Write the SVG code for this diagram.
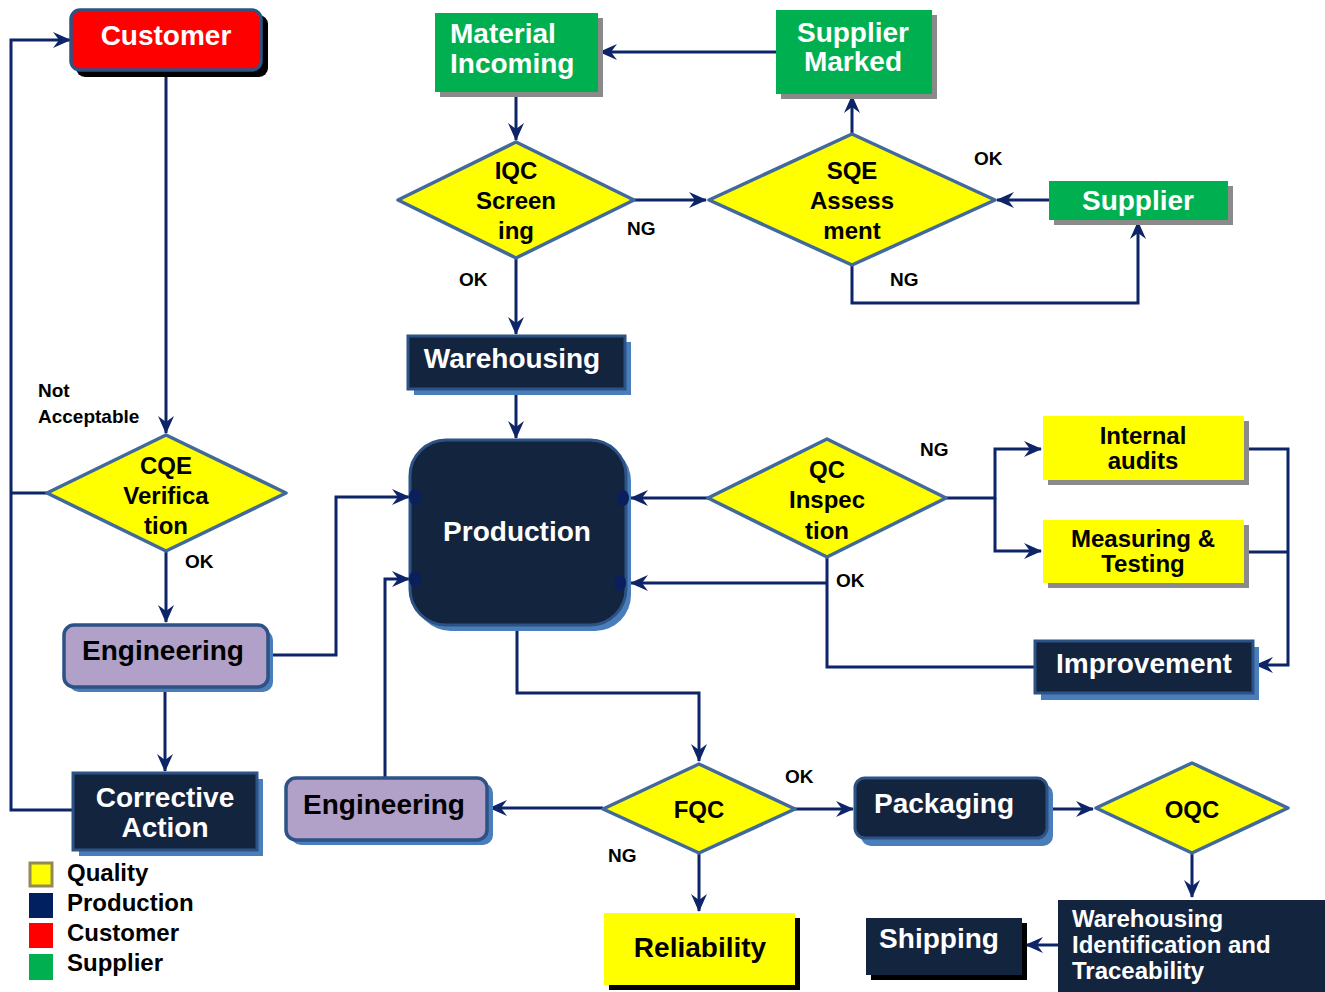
<svg xmlns="http://www.w3.org/2000/svg" width="1325" height="992" viewBox="0 0 1325 992">
<defs>
<marker id="arr" markerUnits="userSpaceOnUse" markerWidth="18" markerHeight="18" viewBox="0 0 18 18" refX="17" refY="9" orient="auto">
<path d="M0,1 L18,9 L0,17 L6,9 z" fill="#0d2568"/>
</marker>
<style>
text{font-family:"Liberation Sans",Arial,sans-serif;font-weight:bold}
.w{fill:#fff}
.k{fill:#000}
.c{text-anchor:middle}
.f28{font-size:28px}
.f24{font-size:24px}
.f19{font-size:19px}
.con{fill:none;stroke:#0d2568;stroke-width:3}
.dia{fill:#ffff00;stroke:#41699c;stroke-width:3.5;stroke-linejoin:round}
.dark{fill:#13243f;stroke:#2c5286;stroke-width:3}
.lbshadow{fill:#4a7ebb}
.green{fill:#00b050}
.gshadow{fill:#8a8a8a}
.yel{fill:#ffff00}
.purple{fill:#b1a0c7;stroke:#2c5286;stroke-width:3.5}
</style>
</defs>
<rect width="1325" height="992" fill="#fff"/>

<g id="connectors">
<path class="con" d="M166,72 V433" marker-end="url(#arr)"/>
<path class="con" d="M73,810 H11 V40 H70" marker-end="url(#arr)" stroke-width="4"/>
<path class="con" d="M47,493 H11"/>
<path class="con" d="M166,551 V622" marker-end="url(#arr)"/>
<path class="con" d="M268,655 H336 V497 H409" marker-end="url(#arr)"/>
<path class="con" d="M165,687 V771" marker-end="url(#arr)"/>
<path class="con" d="M385,778 V579 H409" marker-end="url(#arr)"/>
<path class="con" d="M603,808 H490" marker-end="url(#arr)"/>
<path class="con" d="M516,390 V438" marker-end="url(#arr)"/>
<path class="con" d="M516,93 V140" marker-end="url(#arr)"/>
<path class="con" d="M776,52 H600" marker-end="url(#arr)"/>
<path class="con" d="M634,200 H706" marker-end="url(#arr)"/>
<path class="con" d="M516,258 V334" marker-end="url(#arr)"/>
<path class="con" d="M852,133 V96" marker-end="url(#arr)"/>
<path class="con" d="M1049,200 H997" marker-end="url(#arr)"/>
<path class="con" d="M852,265 V303 H1138 V222" marker-end="url(#arr)"/>
<path class="con" d="M708,498 H631" marker-end="url(#arr)"/>
<path class="con" d="M946,498 H995 V449 H1041" marker-end="url(#arr)"/>
<path class="con" d="M995,498 V551 H1041" marker-end="url(#arr)"/>
<path class="con" d="M1035,667 H827 V557"/>
<path class="con" d="M827,583 H631" marker-end="url(#arr)"/>
<path class="con" d="M1244,449 H1288 V665 H1256" marker-end="url(#arr)"/>
<path class="con" d="M1244,552 H1288"/>
<path class="con" d="M517,625 V693 H699 V761" marker-end="url(#arr)"/>
<path class="con" d="M795,809 H853" marker-end="url(#arr)"/>
<path class="con" d="M699,853 V911" marker-end="url(#arr)"/>
<path class="con" d="M1047,809 H1093" marker-end="url(#arr)"/>
<path class="con" d="M1192,853 V897" marker-end="url(#arr)"/>
<path class="con" d="M1058,945 H1026" marker-end="url(#arr)"/>
</g>

<g id="labels">
<text class="k f19" x="38" y="397">Not</text>
<text class="k f19" x="38" y="423">Acceptable</text>
<text class="k f19" x="185" y="568">OK</text>
<text class="k f19" x="627" y="235">NG</text>
<text class="k f19" x="459" y="286">OK</text>
<text class="k f19" x="974" y="165">OK</text>
<text class="k f19" x="890" y="286">NG</text>
<text class="k f19" x="920" y="456">NG</text>
<text class="k f19" x="836" y="587">OK</text>
<text class="k f19" x="785" y="783">OK</text>
<text class="k f19" x="608" y="862">NG</text>
</g>

<g id="customer">
<rect x="76" y="15" width="192" height="62" rx="9" fill="#000"/>
<rect x="71" y="10" width="190" height="60" rx="9" fill="#ff0000" stroke="#2c5286" stroke-width="3.5"/>
<text class="w f28 c" x="166" y="45">Customer</text>
</g>

<g id="material-incoming">
<rect x="440" y="18" width="163" height="79" class="gshadow"/>
<rect x="435" y="13" width="163" height="79" class="green"/>
<text class="w f28" x="450" y="43">Material</text>
<text class="w f28" x="450" y="73">Incoming</text>
</g>

<g id="supplier-marked">
<rect x="781" y="15" width="156" height="84" class="gshadow"/>
<rect x="776" y="10" width="156" height="84" class="green"/>
<text class="w f28 c" x="853" y="42">Supplier</text>
<text class="w f28 c" x="853" y="71">Marked</text>
</g>

<g id="iqc">
<polygon class="dia" points="516,142 634,200 516,258 398,200"/>
<text class="k f24 c" x="516" y="179">IQC</text>
<text class="k f24 c" x="516" y="209">Screen</text>
<text class="k f24 c" x="516" y="239">ing</text>
</g>

<g id="sqe">
<polygon class="dia" points="852,134 995,200 852,265 709,200"/>
<text class="k f24 c" x="852" y="179">SQE</text>
<text class="k f24 c" x="852" y="209">Assess</text>
<text class="k f24 c" x="852" y="239">ment</text>
</g>

<g id="supplier">
<rect x="1054" y="186" width="179" height="39" class="gshadow"/>
<rect x="1049" y="181" width="179" height="39" class="green"/>
<text class="w f28 c" x="1138" y="210">Supplier</text>
</g>

<g id="warehousing">
<rect x="414" y="342" width="217" height="53" class="lbshadow"/>
<rect x="408" y="336" width="217" height="53" class="dark"/>
<text class="w f28 c" x="512" y="368">Warehousing</text>
</g>

<g id="cqe">
<polygon class="dia" points="166,435 286,493 166,551 47,493"/>
<text class="k f24 c" x="166" y="474">CQE</text>
<text class="k f24 c" x="166" y="504">Verifica</text>
<text class="k f24 c" x="166" y="534">tion</text>
</g>

<g id="production">
<rect x="415" y="445" width="216" height="186" rx="36" class="lbshadow"/>
<rect x="410" y="440" width="216" height="185" rx="36" class="dark"/>
<ellipse cx="415" cy="497" rx="6" ry="8" fill="#0a1f5c"/>
<ellipse cx="415" cy="579" rx="6" ry="8" fill="#0a1f5c"/>
<ellipse cx="623" cy="498" rx="6" ry="8" fill="#0a1f5c"/>
<ellipse cx="620" cy="583" rx="6" ry="8" fill="#0a1f5c"/>
<text class="w f28 c" x="517" y="541">Production</text>
</g>

<g id="qc-inspection">
<polygon class="dia" points="827,439 946,498 827,557 708,498"/>
<text class="k f24 c" x="827" y="478">QC</text>
<text class="k f24 c" x="827" y="508">Inspec</text>
<text class="k f24 c" x="827" y="539">tion</text>
</g>

<g id="internal-audits">
<rect x="1048" y="421" width="201" height="64" class="gshadow"/>
<rect x="1043" y="416" width="201" height="64" class="yel"/>
<text class="k f24 c" x="1143" y="444">Internal</text>
<text class="k f24 c" x="1143" y="469">audits</text>
</g>

<g id="measuring-testing">
<rect x="1048" y="525" width="201" height="63" class="gshadow"/>
<rect x="1043" y="520" width="201" height="63" class="yel"/>
<text class="k f24 c" x="1143" y="547">Measuring &amp;</text>
<text class="k f24 c" x="1143" y="572">Testing</text>
</g>

<g id="improvement">
<rect x="1041" y="647" width="218" height="53" class="lbshadow"/>
<rect x="1035" y="641" width="218" height="52" class="dark"/>
<text class="w f28 c" x="1144" y="673">Improvement</text>
</g>

<g id="engineering-1">
<rect x="69" y="630" width="204" height="62" rx="10" class="lbshadow"/>
<rect x="64" y="625" width="204" height="62" rx="10" class="purple"/>
<text class="k f28 c" x="163" y="660">Engineering</text>
</g>

<g id="corrective-action">
<rect x="79" y="779" width="184" height="77" class="lbshadow"/>
<rect x="73" y="773" width="184" height="77" class="dark"/>
<text class="w f28 c" x="165" y="807">Corrective</text>
<text class="w f28 c" x="165" y="837">Action</text>
</g>

<g id="engineering-2">
<rect x="291" y="783" width="202" height="62" rx="10" class="lbshadow"/>
<rect x="286" y="778" width="201" height="62" rx="10" class="purple"/>
<text class="k f28 c" x="384" y="814">Engineering</text>
</g>

<g id="fqc">
<polygon class="dia" points="699,764 795,809 699,853 603,809"/>
<text class="k f24 c" x="699" y="818">FQC</text>
</g>

<g id="reliability">
<rect x="609" y="918" width="191" height="72" fill="#000"/>
<rect x="604" y="913" width="191" height="72" class="yel"/>
<text class="k f28 c" x="700" y="957">Reliability</text>
</g>

<g id="packaging">
<rect x="861" y="784" width="192" height="62" rx="10" class="lbshadow"/>
<rect x="855" y="778" width="192" height="60" rx="10" class="dark"/>
<text class="w f28 c" x="944" y="813">Packaging</text>
</g>

<g id="oqc">
<polygon class="dia" points="1192,763 1288,808 1192,853 1096,808"/>
<text class="k f24 c" x="1192" y="818">OQC</text>
</g>

<g id="warehousing-identification">
<rect x="1058" y="900" width="267" height="92" fill="#13243f"/>
<text class="w f24" x="1072" y="927">Warehousing</text>
<text class="w f24" x="1072" y="953">Identification and</text>
<text class="w f24" x="1072" y="979">Traceability</text>
</g>

<g id="shipping">
<rect x="871" y="923" width="156" height="57" fill="#000"/>
<rect x="866" y="918" width="156" height="57" fill="#13243f"/>
<text class="w f28 c" x="939" y="948">Shipping</text>
</g>

<g id="legend">
<rect x="30" y="863" width="22" height="23" fill="#ffff00" stroke="#948a54" stroke-width="3"/>
<rect x="29" y="893" width="24" height="25" fill="#002060"/>
<rect x="29" y="923" width="24" height="25" fill="#ff0000"/>
<rect x="29" y="954" width="24" height="26" fill="#00b050"/>
<text class="k f24" x="67" y="881">Quality</text>
<text class="k f24" x="67" y="911">Production</text>
<text class="k f24" x="67" y="941">Customer</text>
<text class="k f24" x="67" y="971">Supplier</text>
</g>
</svg>
